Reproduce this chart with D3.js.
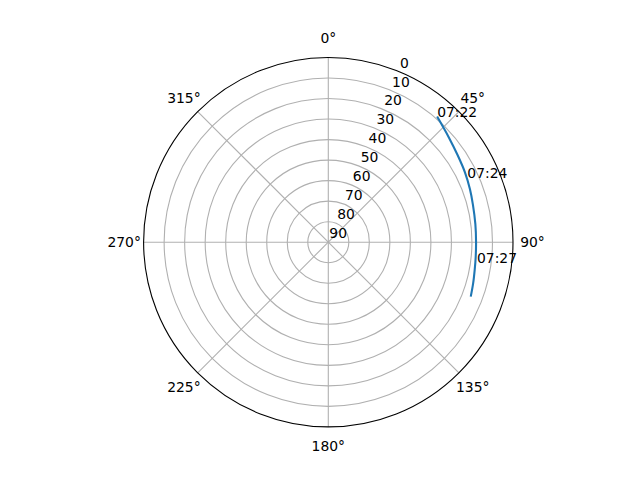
<!DOCTYPE html>
<html>
<head>
<meta charset="utf-8">
<script src="https://cdn.jsdelivr.net/npm/d3@7"></script>
<style>
    body { margin: 0; background: #fff; }
    text { font-family: "DejaVu Sans", sans-serif; font-size: 13.9px; fill: #000; }
</style>
</head>
<body>
<div class="chart"></div>
<script>

// Satellite pass, azimuth (deg, clockwise from north) and elevation (deg)
var trackAz = [40.9, 49.1, 55.9, 62.9, 69.5, 75.5, 83, 90, 96, 100.7, 106, 110.9];
var trackEl = [9.0, 12.2, 14.0, 15.2, 16.3, 17.2, 17.8, 18.0, 17.8, 17.4, 16.6, 15.7];

// Time stamps written along the track
var labelTimes = ["07:22", "07:24", "07:27"];
var labelAz = [40.9, 65.1, 98.1];
var labelEl = [9.0, 15.3, 16.8];

// Axis ticks
var thetaTicks = [0, 45, 90, 135, 180, 225, 270, 315];
var rTicks = [0, 10, 20, 30, 40, 50, 60, 70, 80, 90];

var width = 640, height = 480;
var cx = 328.3, cy = 242.2, radius = 184.7;

var svg = d3.select(".chart")
    .append("svg")
        .attr("width", width)
        .attr("height", height)
    .append("g")
        .attr("transform", "translate(" + cx + "," + cy + ")");

// Elevation 90 sits in the middle, 0 on the rim
var r = d3.scaleLinear()
    .domain([90, 0])
    .range([0, radius]);

function rad(deg) { return deg * Math.PI / 180; }
function px(az, el) { return r(el) * Math.sin(rad(az)); }
function py(az, el) { return -r(el) * Math.cos(rad(az)); }

// Grid circles
svg.selectAll(".ring")
    .data(rTicks.filter(function(d) { return d > 0 && d < 90; }))
    .enter()
    .append("circle")
    .attr("class", "ring")
    .attr("r", function(d) { return r(d); })
    .style("fill", "none")
    .style("stroke", "#b0b0b0")
    .style("stroke-width", 1.1);

// Grid spokes
svg.selectAll(".spoke")
    .data(thetaTicks)
    .enter()
    .append("line")
    .attr("class", "spoke")
    .attr("x1", 0)
    .attr("y1", 0)
    .attr("x2", function(d) { return px(d, 0); })
    .attr("y2", function(d) { return py(d, 0); })
    .style("stroke", "#b0b0b0")
    .style("stroke-width", 1.1);

// Outer spine
svg.append("circle")
    .attr("r", r(0))
    .style("fill", "none")
    .style("stroke", "#000")
    .style("stroke-width", 1.1);

// Angle labels
svg.selectAll(".theta-label")
    .data(thetaTicks)
    .enter()
    .append("text")
    .attr("class", "theta-label")
    .attr("x", function(d) { return (radius + 19.5) * Math.sin(rad(d)); })
    .attr("y", function(d) { return -(radius + 19.5) * Math.cos(rad(d)); })
    .attr("text-anchor", "middle")
    .attr("dy", "0.36em")
    .text(function(d) { return d + "\u00b0"; });

// Elevation labels along 22.5 deg
svg.selectAll(".r-label")
    .data(rTicks)
    .enter()
    .append("text")
    .attr("class", "r-label")
    .attr("x", function(d) { return px(22.5, d) + 1; })
    .attr("y", function(d) { return py(22.5, d) - 4; })
    .attr("text-anchor", "start")
    .text(function(d) { return d; });

// The pass itself
var line = d3.lineRadial()
    .angle(function(d, i) { return rad(trackAz[i]); })
    .radius(function(d, i) { return r(trackEl[i]); })
    .curve(d3.curveCatmullRom);

svg.append("path")
    .datum(trackAz)
    .attr("d", line)
    .style("fill", "none")
    .style("stroke", "#1f77b4")
    .style("stroke-width", 2.1);

// Time stamps
svg.selectAll(".time-label")
    .data(labelTimes)
    .enter()
    .append("text")
    .attr("class", "time-label")
    .attr("x", function(d, i) { return px(labelAz[i], labelEl[i]); })
    .attr("y", function(d, i) { return py(labelAz[i], labelEl[i]); })
    .text(function(d) { return d; });

</script>
</body>
</html>
